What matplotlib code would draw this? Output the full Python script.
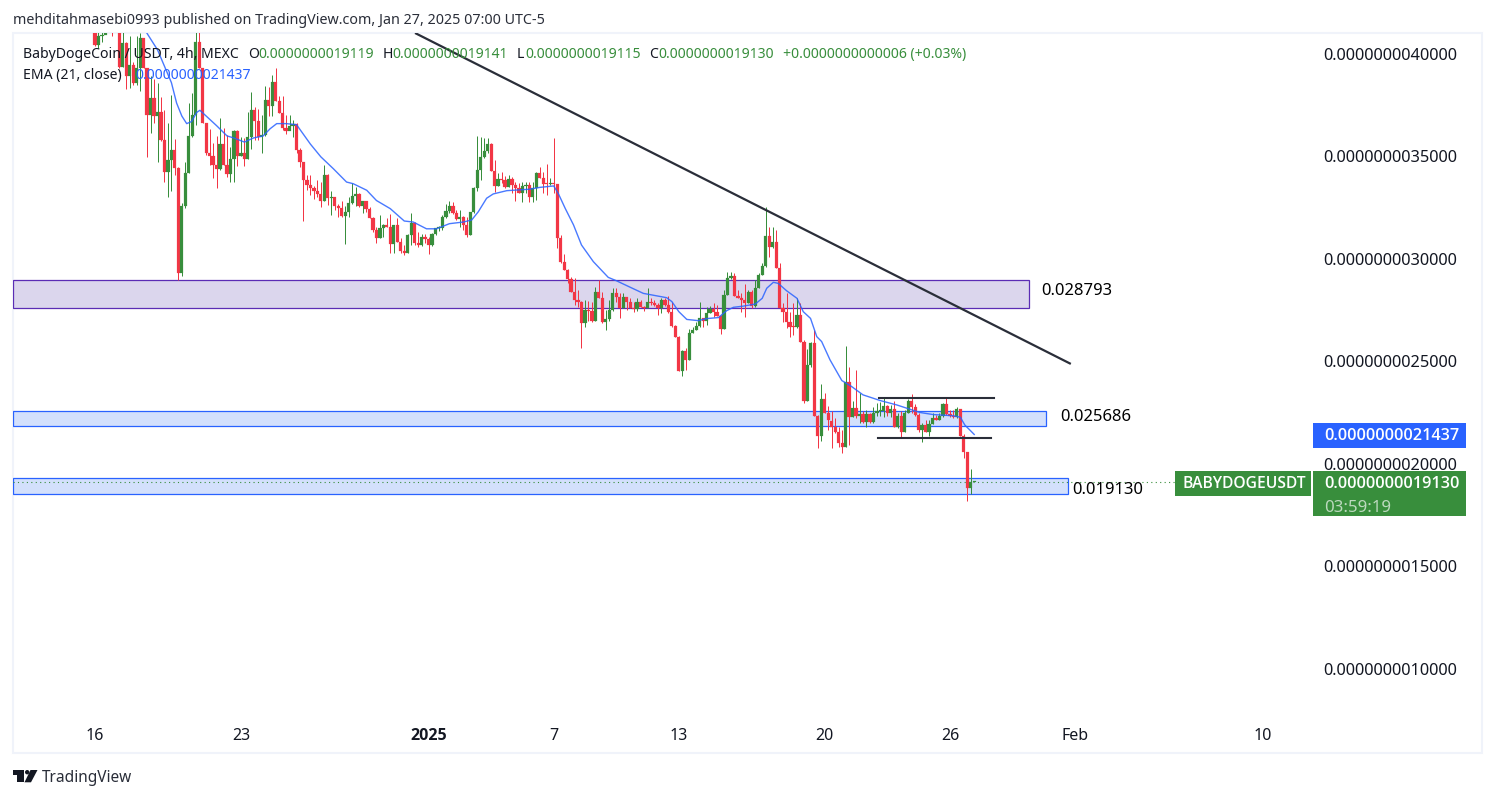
"""
plot.py

BabyDogeCoin / USDT 4h candles with EMA(21), zones and trend lines.
Prices are kept in units of 1e-10 USDT.
"""

import matplotlib
matplotlib.use('Agg')
import matplotlib.pyplot as plt
from matplotlib.patches import Rectangle, Polygon, Circle

plt.rcParams['font.family'] = ['Noto Sans', 'DejaVu Sans']

# ============================================================
# DATA
# ============================================================
first_open = 41.0
closes = [
    40.44,40.85,40.93,42.0,43.0,42.5,42.2,39.38,40.52,38.9,
    39.46,38.57,39.3,40.76,39.3,37.03,37.84,36.95,37.19,35.78,
    34.26,34.83,35.32,34.43,29.3,32.59,34.18,36.0,37.03,40.6,
    39.32,36.62,35.19,35.04,34.59,34.41,35.61,34.59,34.15,34.86,
    36.25,35.0,35.16,34.88,35.94,37.27,36.75,35.94,36.05,37.76,
    37.47,38.62,37.68,37.14,36.38,36.26,36.5,36.59,35.29,34.72,
    33.86,33.61,33.45,33.29,33.17,32.84,34.1,32.96,33.0,32.58,
    32.47,32.1,32.27,32.71,33.07,33.17,32.58,32.83,32.42,32.0,
    31.41,31.0,31.49,31.66,31.57,30.73,31.66,30.84,30.4,30.31,
    31.17,31.77,30.8,30.7,31.05,30.95,30.68,31.22,31.49,31.5,
    32.03,32.34,32.58,32.22,31.93,32.03,31.66,31.17,32.3,33.44,
    34.34,34.99,35.28,35.61,34.31,33.56,33.88,33.85,33.49,33.88,
    33.6,33.44,33.23,33.56,33.6,33.04,33.44,34.21,33.93,33.66,
    33.64,33.68,33.66,31.0,29.83,29.46,29.02,28.4,28.0,27.92,
    26.89,27.51,27.46,26.97,28.4,28.08,26.94,27.07,27.51,28.36,
    28.16,27.59,28.13,27.92,27.59,27.55,27.92,27.67,27.59,27.92,
    27.83,27.75,27.59,28.0,27.75,27.43,26.73,26.21,24.55,25.49,
    25.07,26.37,26.53,26.73,27.1,26.99,27.35,27.57,27.43,27.23,
    26.58,28.24,29.05,29.17,28.19,28.11,28.0,27.83,28.4,27.7,
    28.57,29.22,29.66,31.12,30.6,30.81,29.54,27.59,27.43,26.94,
    26.7,26.66,27.27,25.97,23.09,24.83,25.92,22.34,21.34,23.17,
    22.47,22.12,21.82,21.58,21.04,20.85,24.02,22.31,22.72,22.36,
    22.44,22.04,22.43,22.07,22.51,22.56,22.59,22.83,22.47,22.69,
    21.82,22.36,21.58,22.47,23.09,22.8,22.39,21.66,21.9,21.58,
    21.94,22.23,22.15,22.34,22.93,22.44,22.34,22.28,22.67,21.37,
    20.56,18.82,19.12,19.13,
]
highs = [
    41.4,41.2,41.5,42.5,43.5,43.2,43.0,42.2,41.2,40.6,
    40.85,39.6,40.85,41.0,40.76,39.3,38.9,38.8,38.57,37.92,
    37.27,36.62,38.0,35.86,34.5,32.72,34.75,37.63,38.1,41.3,
    41.2,39.32,36.62,36.34,35.64,36.0,36.86,36.38,36.05,35.48,
    36.3,36.3,35.97,35.89,37.19,38.13,37.43,37.3,37.03,38.44,
    38.38,38.98,39.3,37.95,37.95,37.03,37.03,36.78,36.62,35.4,
    34.72,34.1,34.1,33.56,33.85,33.77,34.58,34.14,33.31,33.0,
    32.7,32.84,32.58,33.04,33.72,33.53,33.23,32.83,32.83,32.52,
    32.03,31.57,32.14,31.69,31.98,32.19,31.66,31.98,31.0,30.68,
    31.22,32.22,31.82,31.33,31.2,31.2,31.05,31.25,31.49,31.6,
    32.14,32.68,32.84,32.8,32.38,32.38,32.1,32.03,32.3,33.49,
    36.0,35.96,35.88,35.88,35.67,34.83,34.21,34.26,34.05,34.1,
    34.01,33.77,33.69,33.77,33.77,33.77,33.77,34.26,34.5,34.26,
    34.63,33.93,35.88,33.66,31.17,30.24,29.5,29.14,29.05,28.49,
    27.96,28.0,27.96,27.92,28.65,28.97,28.4,27.51,28.0,28.57,
    28.6,28.32,28.32,28.16,28.08,27.9,28.08,28.0,27.7,28.57,
    28.08,28.0,27.83,28.08,28.08,28.19,27.92,26.78,26.24,25.56,
    25.64,26.6,26.7,26.94,27.88,27.1,27.67,27.7,27.83,27.75,
    27.27,28.49,29.35,29.38,29.3,28.49,28.32,28.78,28.49,28.49,
    28.97,29.3,29.79,32.52,31.57,31.57,31.41,29.79,27.83,28.32,
    27.43,27.83,28.08,27.83,26.05,25.63,25.97,26.54,22.4,23.89,
    23.45,22.83,22.56,22.23,21.78,21.66,25.73,24.75,23.09,24.59,
    23.45,22.56,22.64,22.47,22.77,22.96,23.04,23.29,22.88,22.88,
    23.09,22.47,22.56,22.64,23.16,23.42,22.93,22.47,21.99,22.15,
    22.15,22.47,22.39,22.47,22.96,23.21,22.64,22.64,22.8,22.67,
    21.47,20.6,19.74,19.14,
]
lows = [
    40.4,40.3,40.6,41.5,42.0,40.85,41.5,39.3,39.38,38.3,
    38.33,38.5,38.5,38.17,39.3,34.99,36.13,36.62,34.75,35.73,
    33.73,33.04,33.29,34.1,28.98,29.17,32.5,34.18,35.97,36.54,
    39.32,36.62,35.08,34.59,33.94,33.48,34.34,34.59,34.02,33.73,
    33.73,34.54,35.0,34.54,34.88,35.35,35.81,35.81,35.19,36.0,
    36.95,36.98,37.68,37.1,36.3,36.1,36.3,35.97,35.19,34.47,
    31.87,33.37,33.12,32.91,33.04,32.52,32.84,32.63,32.14,32.39,
    32.03,32.03,30.73,32.06,32.68,32.58,32.55,32.26,32.3,31.98,
    31.33,30.79,31.0,31.05,31.57,30.27,30.27,30.84,30.27,30.19,
    30.31,30.68,30.68,30.6,30.65,30.8,30.24,30.63,31.17,31.35,
    31.41,31.98,32.22,32.2,31.9,31.54,31.41,31.09,31.17,32.26,
    33.33,33.85,34.9,35.15,34.31,33.28,33.56,33.69,33.44,33.49,
    33.2,32.84,33.2,32.79,33.2,32.79,32.79,32.88,33.93,33.2,
    33.12,33.6,33.2,30.52,29.8,29.46,28.81,28.37,27.75,27.67,
    25.64,26.7,26.99,26.94,26.97,28.08,26.89,26.53,26.99,27.46,
    27.92,27.1,27.59,27.51,27.59,27.4,27.46,27.65,27.46,27.59,
    27.75,27.72,27.27,27.35,27.72,27.38,26.7,26.18,24.55,24.29,
    24.58,25.07,26.37,26.53,26.7,26.7,26.76,27.35,27.18,27.23,
    26.34,26.58,28.24,29.02,28.19,28.08,27.43,27.18,27.83,27.59,
    27.67,28.57,29.2,29.62,30.08,30.52,29.54,27.59,26.94,26.62,
    26.21,26.29,26.62,25.97,22.96,23.09,24.72,22.34,20.77,21.13,
    22.47,21.66,20.77,21.5,20.85,20.52,20.82,20.93,22.31,22.23,
    21.99,22.0,21.82,22.02,22.02,22.34,22.34,22.28,22.35,22.28,
    21.79,21.74,21.3,21.58,22.47,22.47,22.35,21.58,21.09,21.55,
    21.37,21.94,22.12,22.15,22.28,22.39,22.3,22.23,22.23,21.34,
    20.28,18.17,18.52,19.115,
]

# EMA at selected bars
ema_bars = [15,18,20,22,23.5,25,26.4,27.8,29.3,30.2,32,35,38,40,43,45.6,48.4,50.4,52.3,55,58,62,65,
            68.6,72.4,74.3,78.2,81,85,89,91.6,95.4,98.3,102,106,108.4,110.3,112.7,114.6,118.5,125,128,
            132,133.3,135.3,137.7,140,143.4,147.7,150,154,157.8,164.5,166,168,170.3,173.6,176,179.4,
            181.8,183.7,186.6,190,192,193.3,195.2,196.6,199,202,203.8,205.9,207.7,209.1,211.5,214.9,
            217.7,221,226,230.7,233.6,237.4,241.2,247,249,250.3,253]
ema_vals = [41.0,40.2,39.4,38.6,37.6,36.97,36.6,36.7,37.15,37.25,36.97,36.5,36.0,35.9,35.7,35.9,36.0,36.35,36.6,36.6,36.55,35.6,34.98,
            34.4,33.75,33.67,33.35,32.85,32.45,31.85,31.8,31.47,31.47,31.72,31.8,31.9,32.3,32.96,33.17,33.33,33.4,33.49,
            33.56,33.2,32.47,31.66,30.68,29.87,29.1,28.94,28.62,28.32,28.11,27.92,27.43,27.05,26.99,27.09,27.14,
            27.48,27.64,27.7,27.8,28.08,28.57,28.86,28.81,28.45,28.08,27.43,27.1,26.21,25.97,25.08,24.07,
            23.78,23.37,23.09,22.88,22.72,22.51,22.41,22.35,22.28,21.9,21.44]

# x positions are days since Dec 16
x_tick_days = [0, 7, 16, 22, 28, 35, 41, 47, 56]
x_tick_labels = ['16', '23', '2025', '7', '13', '20', '26', 'Feb', '10']
y_ticks = [10, 15, 20, 25, 30, 35, 40]

purple_zone = (28.98, 27.61, 44.8)
blue_zone_1 = (22.59, 21.85, 45.6)
blue_zone_2 = (19.32, 18.54, 46.67)
trend_days = [15.35, 46.8]
trend_prices = [41.02, 24.88]
range_top = ([37.6, 43.1], [23.22, 23.22])
range_bottom = ([37.55, 42.95], [21.29, 21.29])
last_price = 19.13

# ============================================================
# STYLE
# ============================================================
W, H = 1495, 798
UP = '#388e3c'
DOWN = '#f23645'
BLUE = '#2962ff'
INK = '#131722'
XMIN, XMAX = -3.93, 58.27
YMIN, YMAX = 7.756, 41.02


def fx(x):
    return x / W


def fy(y):
    return 1 - y / H


def label(x, y, s, size, color=INK, **kw):
    kw.setdefault('va', 'center')
    fig.text(fx(x), fy(y), s, fontsize=size * 0.72, color=color, **kw)


def tag(x0, y0, x1, y1, color):
    fig.patches.append(Rectangle((fx(x0), fy(y1)), (x1 - x0) / W, (y1 - y0) / H,
                                 transform=fig.transFigure, facecolor=color,
                                 edgecolor='none', zorder=1))


fig = plt.figure(figsize=(W / 100, H / 100), dpi=100, facecolor='white')

# outer frame of the chart
fig.patches.append(Rectangle((fx(13), fy(753)), 1469 / W, 720 / H, transform=fig.transFigure,
                             facecolor='none', edgecolor='#f0f3fa', linewidth=1.5, zorder=-1))

ax = fig.add_axes([fx(13), fy(715), (1310 - 13) / W, (715 - 33) / H])
ax.patch.set_visible(False)
for s in ax.spines.values():
    s.set_visible(False)
ax.set_xlim(XMIN, XMAX)
ax.set_ylim(YMIN, YMAX)

# ============================================================
# ZONES
# ============================================================
for (top, bottom, end), face, edge in [(purple_zone, '#dbd6ed', '#5b2db5'),
                                       (blue_zone_1, '#d3e0fc', BLUE),
                                       (blue_zone_2, '#d3e0fc', BLUE)]:
    ax.add_patch(Rectangle((XMIN, bottom), end - XMIN, top - bottom, facecolor=face,
                           edgecolor=edge, linewidth=0.9, zorder=1))

# ============================================================
# CANDLES
# ============================================================
opens = [first_open] + closes[:-1]
days = [i / 6 for i in range(len(closes))]
colors = [UP if c >= o else DOWN for o, c in zip(opens, closes)]
ax.vlines(days, lows, highs, colors=colors, linewidth=0.72, zorder=2)
bottoms = [min(o, c) for o, c in zip(opens, closes)]
heights = [max(abs(c - o), 0.06) for o, c in zip(opens, closes)]
ax.bar(days, heights, bottom=bottoms, width=0.155, color=colors, linewidth=0.15,
       edgecolor=colors, zorder=2)

ax.plot([b / 6 for b in ema_bars], ema_vals, color=BLUE, linewidth=1.0, alpha=0.85, zorder=3)
ax.plot(trend_days, trend_prices, color='#2a2e39', linewidth=1.6, zorder=4, solid_capstyle='butt')
ax.plot(*range_top, color='#2a2e39', linewidth=1.5, zorder=4)
ax.plot(*range_bottom, color='#2a2e39', linewidth=1.5, zorder=4)
ax.plot([XMIN, XMAX - 6.3], [last_price, last_price], color=UP, linewidth=0.8,
        linestyle=(0, (1, 3)), zorder=3)

# ============================================================
# AXES
# ============================================================
ax.set_xticks(x_tick_days)
ax.set_xticklabels(x_tick_labels, fontsize=11.5, color=INK)
ax.get_xticklabels()[2].set_family('Open Sans')
ax.get_xticklabels()[2].set_fontweight('bold')
ax.tick_params(axis='x', length=0, pad=9)
ax.yaxis.tick_right()
ax.set_yticks(y_ticks)
ax.set_yticklabels([f'{v * 1e-10:.13f}' for v in y_ticks], fontsize=11.8, color=INK)
ax.tick_params(axis='y', length=0, pad=9.5)

# ============================================================
# TEXT
# ============================================================
label(13, 20.5, 'mehditahmasebi0993 published on TradingView.com, Jan 27, 2025 07:00 UTC-5', 14.3, '#2a2e39')

label(23, 54.5, 'BabyDogeCoin / USDT, 4h, MEXC', 14.1)
for x, s, col in [(248, 'O', INK), (258, '0.0000000019119', UP),
                  (383, 'H', INK), (392, '0.0000000019141', UP),
                  (517, 'L', INK), (525, '0.0000000019115', UP),
                  (649, 'C', INK), (658, '0.0000000019130', UP),
                  (783, '+0.0000000000006 (+0.03%)', UP)]:
    label(x, 54.5, s, 14.0, col)
label(23, 75.5, 'EMA (21, close)', 14.1)
label(135, 75.5, '0.0000000021437', 14.0, BLUE)

label(1041, 291, '0.028793', 16.6, 'black')
label(1060, 417, '0.025686', 16.6, 'black')
label(1072, 490, '0.019130', 16.6, 'black')

tag(1313, 423, 1466, 448, BLUE)
label(1324, 436, f'{21.437e-10:.13f}', 16.2, 'white', family='Open Sans', fontweight='semibold')
tag(1175, 471, 1311, 496, UP)
label(1182, 484.5, 'BABYDOGEUSDT', 15.6, 'white', family='Open Sans', fontweight='semibold')
tag(1313, 471, 1466, 516, UP)
label(1324, 484, f'{last_price * 1e-10:.13f}', 16.2, 'white', family='Open Sans', fontweight='semibold')
label(1324, 507.5, '03:59:19', 16.8, '#bcd9be')

# TradingView mark
for pts in ([(12.7, 770), (24, 770), (24, 782.3), (17, 782.3), (17, 774.5), (12.7, 774.5)],
            [(30.5, 770), (37.5, 770), (31, 782.3), (24.5, 782.3)]):
    fig.patches.append(Polygon([(fx(a), fy(b)) for a, b in pts], transform=fig.transFigure,
                               facecolor='#131722', edgecolor='none'))
fig.patches.append(Circle((27.2, H - 772.2), 2.2, transform=None, facecolor='#131722', edgecolor='none'))
label(42, 778, 'TradingView', 15.4, '#2a2e39')

fig.savefig('out.png', dpi=100)
